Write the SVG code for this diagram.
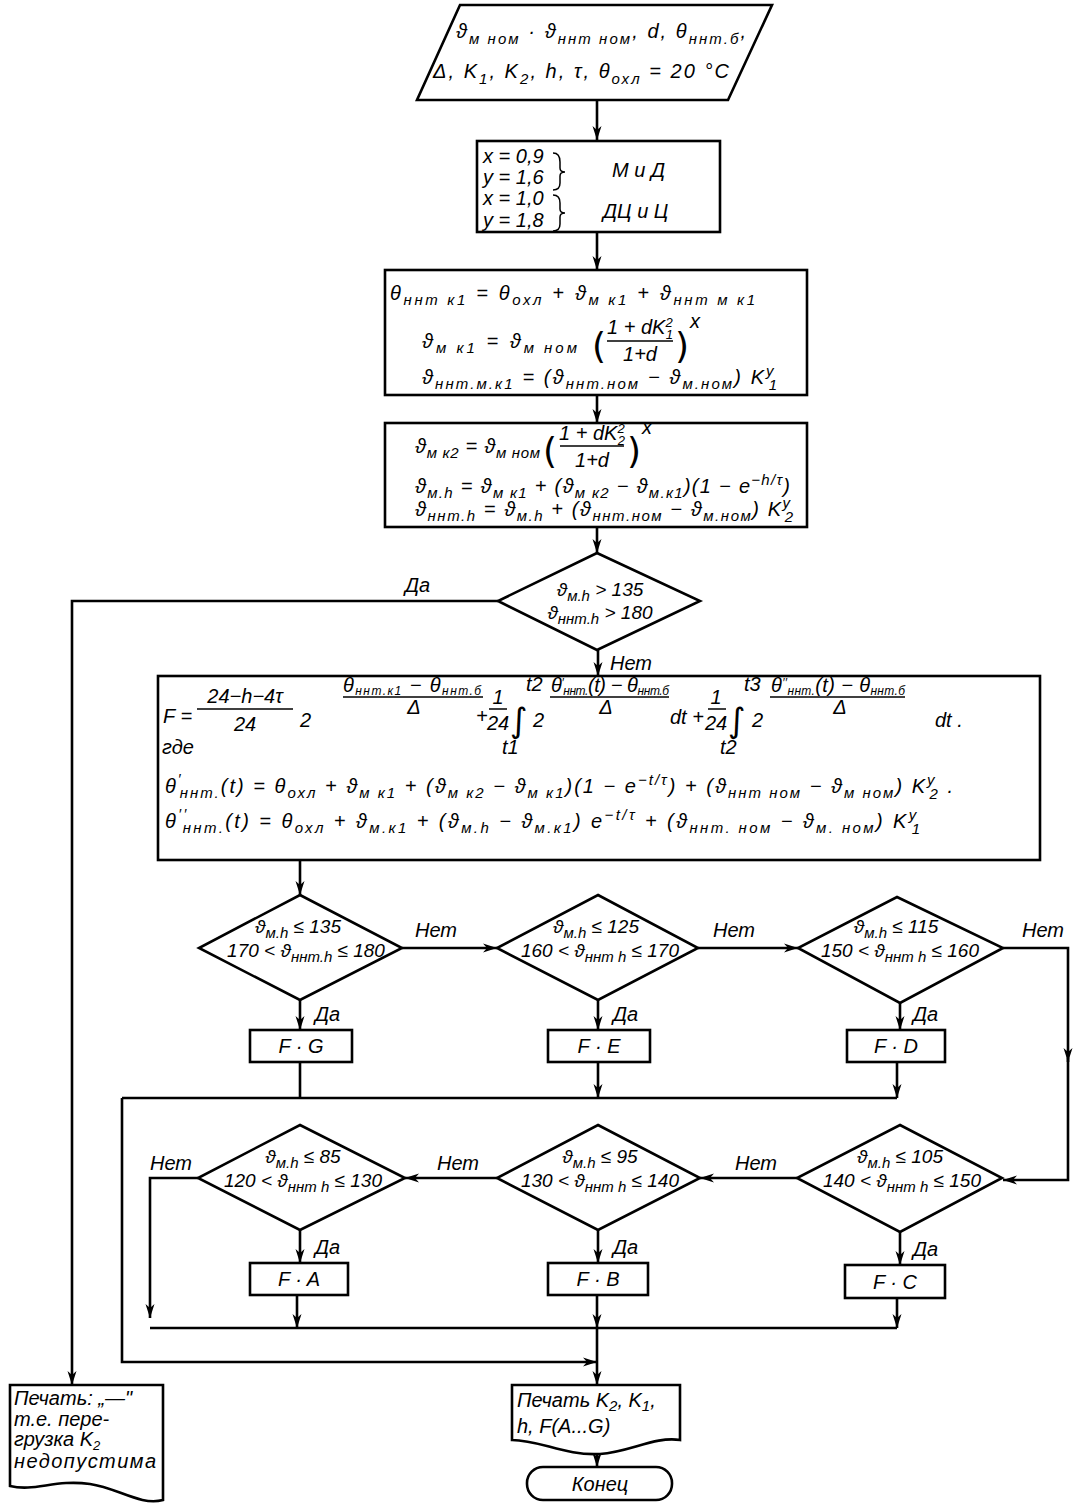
<svg xmlns="http://www.w3.org/2000/svg" width="1076" height="1508" viewBox="0 0 1076 1508">
<style>
.n{fill:#fff;stroke:#000;stroke-width:2.6}
.c{fill:none;stroke:#000;stroke-width:2.6}
.fl{fill:none;stroke:#000;stroke-width:1.5}
text{font-family:"Liberation Sans","DejaVu Sans",sans-serif;font-style:italic;font-size:20px;fill:#000}
.s{font-size:15px}
.m{text-anchor:middle}
.b{font-size:19px}
.big{font-style:normal;font-size:36px;font-family:"DejaVu Sans",sans-serif}
.int{font-style:normal;font-size:34px;font-family:"DejaVu Sans",sans-serif}
.lbl{font-size:20px}
</style>
<defs>
<marker id="a" viewBox="0 0 14 10" refX="14" refY="5" markerWidth="14" markerHeight="10" orient="auto" markerUnits="userSpaceOnUse">
<path d="M0,0.5 L14,5 L0,9.5 L4,5 z" fill="#000"/>
</marker>
</defs>
<rect width="1076" height="1508" fill="#fff"/>

<g id="connectors">
<path class="c" d="M597,100 V140" marker-end="url(#a)"/>
<path class="c" d="M597,232 V270" marker-end="url(#a)"/>
<path class="c" d="M597,395 V423" marker-end="url(#a)"/>
<path class="c" d="M597,527 V553" marker-end="url(#a)"/>
<path class="c" d="M498,601 H72 V1385" marker-end="url(#a)"/>
<path class="c" d="M598,650 V676" marker-end="url(#a)"/>
<path class="c" d="M300,860 V895" marker-end="url(#a)"/>
<path class="c" d="M402,948 H497" marker-end="url(#a)"/>
<path class="c" d="M698,948 H798" marker-end="url(#a)"/>
<path class="c" d="M1003,948 H1068 V1062" marker-end="url(#a)"/>
<path class="c" d="M1068,1058 V1180 H1003" marker-end="url(#a)"/>
<path class="c" d="M300,1000 V1030" marker-end="url(#a)"/>
<path class="c" d="M598,1000 V1030" marker-end="url(#a)"/>
<path class="c" d="M900,1003 V1030" marker-end="url(#a)"/>
<path class="c" d="M300,1062 V1098"/>
<path class="c" d="M598,1062 V1098" marker-end="url(#a)"/>
<path class="c" d="M897,1062 V1098" marker-end="url(#a)"/>
<path class="c" d="M122,1098 H897"/>
<path class="c" d="M122,1098 V1362 H597" marker-end="url(#a)"/>
<path class="c" d="M797,1178 H700" marker-end="url(#a)"/>
<path class="c" d="M497,1178 H405" marker-end="url(#a)"/>
<path class="c" d="M198,1178 H150 V1318" marker-end="url(#a)"/>
<path class="c" d="M300,1230 V1263" marker-end="url(#a)"/>
<path class="c" d="M598,1230 V1263" marker-end="url(#a)"/>
<path class="c" d="M900,1232 V1265" marker-end="url(#a)"/>
<path class="c" d="M297,1295 V1328" marker-end="url(#a)"/>
<path class="c" d="M597,1295 V1328" marker-end="url(#a)"/>
<path class="c" d="M897,1298 V1328" marker-end="url(#a)"/>
<path class="c" d="M150,1328 H897"/>
<path class="c" d="M597,1328 V1385" marker-end="url(#a)"/>
<path class="c" d="M597,1452 V1467" marker-end="url(#a)"/>
<text class="lbl" x="405" y="592">Да</text>
<text class="lbl" x="610" y="670">Нет</text>
<text class="lbl" x="415" y="937">Нет</text>
<text class="lbl" x="713" y="937">Нет</text>
<text class="lbl" x="1022" y="937">Нет</text>
<text class="lbl" x="315" y="1021">Да</text>
<text class="lbl" x="613" y="1021">Да</text>
<text class="lbl" x="913" y="1021">Да</text>
<text class="lbl" x="150" y="1170">Нет</text>
<text class="lbl" x="437" y="1170">Нет</text>
<text class="lbl" x="735" y="1170">Нет</text>
<text class="lbl" x="315" y="1254">Да</text>
<text class="lbl" x="613" y="1254">Да</text>
<text class="lbl" x="913" y="1256">Да</text>
</g>

<g id="input">
<path class="n" d="M460,5 H772 L728,100 H417 Z"/>
<text x="456" y="38" font-size="23" textLength="290">ϑ<tspan class="s" dy="6">м ном</tspan><tspan dy="-6"> · ϑ</tspan><tspan class="s" dy="6">ннт ном</tspan><tspan dy="-6">, d, θ</tspan><tspan class="s" dy="6">ннт.б</tspan><tspan dy="-6">,</tspan></text>
<text x="433" y="78" font-size="23" textLength="296">Δ, K<tspan class="s" dy="6">1</tspan><tspan dy="-6">, K</tspan><tspan class="s" dy="6">2</tspan><tspan dy="-6">, h, τ,  θ</tspan><tspan class="s" dy="6">охл</tspan><tspan dy="-6"> = 20 °С</tspan></text>
</g>

<g id="coef">
<rect class="n" x="477" y="141" width="243" height="91"/>
<text x="483" y="163">x = 0,9</text>
<text x="483" y="184">y = 1,6</text>
<text x="483" y="205">x = 1,0</text>
<text x="483" y="227">y = 1,8</text>
<path class="fl" d="M553,153 Q560,153 560,162 V168 Q560,172 565,172 Q560,172 560,176 V183 Q560,190 553,190"/>
<path class="fl" d="M553,195 Q560,195 560,203 V209 Q560,213 565,213 Q560,213 560,217 V224 Q560,231 553,231"/>
<text x="612" y="177">М и Д</text>
<text x="603" y="218">ДЦ и Ц</text>
</g>

<g id="calc1">
<rect class="n" x="385" y="270" width="422" height="125"/>
<text x="390" y="300" font-size="21" textLength="365">θ<tspan class="s" dy="5">ннт к1</tspan><tspan dy="-5"> = θ</tspan><tspan class="s" dy="5">охл</tspan><tspan dy="-5"> + ϑ</tspan><tspan class="s" dy="5">м к1</tspan><tspan dy="-5"> + ϑ</tspan><tspan class="s" dy="5">ннт м к1</tspan></text>
<text x="422" y="348" font-size="21" textLength="155">ϑ<tspan class="s" dy="5">м к1</tspan><tspan dy="-5"> = ϑ</tspan><tspan class="s" dy="5">м ном</tspan></text>
<text class="big" x="592" y="358">(</text>
<text class="m" x="640" y="334" font-size="17">1 + dK<tspan font-size="13" dy="-7">2</tspan><tspan font-size="13" dx="-7" dy="12">1</tspan></text>
<path class="fl" d="M607,341 H673"/>
<text class="m" x="640" y="361" font-size="17">1+d</text>
<text class="big" x="675" y="358">)</text>
<text x="690" y="328" font-size="15">x</text>
<text x="422" y="384" font-size="21" textLength="355">ϑ<tspan class="s" dy="5">ннт.м.к1</tspan><tspan dy="-5"> = (ϑ</tspan><tspan class="s" dy="5">ннт.ном</tspan><tspan dy="-5"> − ϑ</tspan><tspan class="s" dy="5">м.ном</tspan><tspan dy="-5">) K</tspan><tspan class="s" dy="-8">y</tspan><tspan class="s" dx="-7" dy="14">1</tspan></text>
</g>

<g id="calc2">
<rect class="n" x="385" y="423" width="422" height="104"/>
<text x="415" y="453" font-size="21" textLength="125">ϑ<tspan class="s" dy="5">м к2</tspan><tspan dy="-5"> = ϑ</tspan><tspan class="s" dy="5">м ном</tspan></text>
<text class="big" x="543" y="463">(</text>
<text class="m" x="592" y="440" font-size="17">1 + dK<tspan font-size="13" dy="-7">2</tspan><tspan font-size="13" dx="-7" dy="12">2</tspan></text>
<path class="fl" d="M560,446 H624"/>
<text class="m" x="592" y="467" font-size="17">1+d</text>
<text class="big" x="627" y="463">)</text>
<text x="642" y="434" font-size="15">x</text>
<text x="415" y="493" font-size="21" textLength="375">ϑ<tspan class="s" dy="5">м.h</tspan><tspan dy="-5"> = ϑ</tspan><tspan class="s" dy="5">м к1</tspan><tspan dy="-5"> + (ϑ</tspan><tspan class="s" dy="5">м к2</tspan><tspan dy="-5"> − ϑ</tspan><tspan class="s" dy="5">м.к1</tspan><tspan dy="-5">)(1 − e</tspan><tspan class="s" dy="-8">−h/τ</tspan><tspan dy="8">)</tspan></text>
<text x="415" y="516" font-size="21" textLength="378">ϑ<tspan class="s" dy="5">ннт.h</tspan><tspan dy="-5"> = ϑ</tspan><tspan class="s" dy="5">м.h</tspan><tspan dy="-5"> + (ϑ</tspan><tspan class="s" dy="5">ннт.ном</tspan><tspan dy="-5"> − ϑ</tspan><tspan class="s" dy="5">м.ном</tspan><tspan dy="-5">) K</tspan><tspan class="s" dy="-8">y</tspan><tspan class="s" dx="-7" dy="14">2</tspan></text>
</g>

<g id="check0">
<polygon class="n" points="597,553 700,601 597,650 498,601"/>
<text class="m b" x="600" y="596">ϑ<tspan class="s" dy="5">м.h</tspan><tspan dy="-5"> &gt; 135</tspan></text>
<text class="m b" x="600" y="619">ϑ<tspan class="s" dy="5">ннт.h</tspan><tspan dy="-5"> &gt; 180</tspan></text>
</g>

<g id="calcF">
<rect class="n" x="158" y="676" width="882" height="184"/>
<text x="163" y="723" font-size="21">F =</text>
<text class="m" x="245" y="703" font-size="21">24−h−4τ</text>
<path class="fl" d="M197,709 H293"/>
<text class="m" x="245" y="731" font-size="21">24</text>
<text x="300" y="727" font-size="23">2</text>
<text x="343" y="692" font-size="15" textLength="138">θ<tspan font-size="12" dy="3">ннт.к1</tspan><tspan dy="-3"> − θ</tspan><tspan font-size="12" dy="3">ннт.б</tspan></text>
<path class="fl" d="M343,697 H483"/>
<text class="m" x="414" y="714" font-size="16">Δ</text>
<text x="476" y="723">+</text>
<text class="m" x="498" y="704" font-size="17">1</text>
<path class="fl" d="M489,709 H507"/>
<text class="m" x="498" y="730" font-size="17">24</text>
<text class="int" x="510" y="732">∫</text>
<text x="526" y="691" font-size="14">t2</text>
<text x="502" y="754" font-size="14">t1</text>
<text x="533" y="727" font-size="23">2</text>
<text x="551" y="692" font-size="15" textLength="118">θ<tspan font-size="12" dy="-5">′</tspan><tspan font-size="12" dy="8">ннт.</tspan><tspan dy="-3">(t) − θ</tspan><tspan font-size="12" dy="3">ннт.б</tspan></text>
<path class="fl" d="M550,697 H669"/>
<text class="m" x="606" y="714" font-size="16">Δ</text>
<text x="670" y="724" font-size="19">dt +</text>
<text class="m" x="716" y="704" font-size="16">1</text>
<path class="fl" d="M708,709 H726"/>
<text class="m" x="716" y="730" font-size="17">24</text>
<text class="int" x="728" y="732">∫</text>
<text x="744" y="691" font-size="14">t3</text>
<text x="720" y="754" font-size="14">t2</text>
<text x="752" y="727" font-size="23">2</text>
<text x="771" y="692" font-size="15" textLength="134">θ<tspan font-size="12" dy="-5">′′</tspan><tspan font-size="12" dy="8">ннт.</tspan><tspan dy="-3">(t) − θ</tspan><tspan font-size="12" dy="3">ннт.б</tspan></text>
<path class="fl" d="M770,697 H905"/>
<text class="m" x="840" y="714" font-size="16">Δ</text>
<text x="935" y="727" font-size="21">dt .</text>
<text x="162" y="754" font-size="21">где</text>
<text x="165" y="793" font-size="21" textLength="788">θ<tspan class="s" dy="-9">′</tspan><tspan class="s" dx="-3" dy="14">ннт.</tspan><tspan dy="-5">(t) = θ</tspan><tspan class="s" dy="5">охл</tspan><tspan dy="-5"> + ϑ</tspan><tspan class="s" dy="5">м к1</tspan><tspan dy="-5"> + (ϑ</tspan><tspan class="s" dy="5">м к2</tspan><tspan dy="-5"> − ϑ</tspan><tspan class="s" dy="5">м к1</tspan><tspan dy="-5">)(1 − e</tspan><tspan class="s" dy="-8">−t/τ</tspan><tspan dy="8">) + (ϑ</tspan><tspan class="s" dy="5">ннт ном</tspan><tspan dy="-5"> − ϑ</tspan><tspan class="s" dy="5">м ном</tspan><tspan dy="-5">) K</tspan><tspan class="s" dy="-8">y</tspan><tspan class="s" dx="-7" dy="14">2</tspan><tspan dy="-6"> .</tspan></text>
<text x="165" y="828" font-size="21" textLength="755">θ<tspan class="s" dy="-9">′′</tspan><tspan class="s" dx="-6" dy="14">ннт.</tspan><tspan dy="-5">(t) = θ</tspan><tspan class="s" dy="5">охл</tspan><tspan dy="-5"> + ϑ</tspan><tspan class="s" dy="5">м.к1</tspan><tspan dy="-5"> + (ϑ</tspan><tspan class="s" dy="5">м.h</tspan><tspan dy="-5"> − ϑ</tspan><tspan class="s" dy="5">м.к1</tspan><tspan dy="-5">) e</tspan><tspan class="s" dy="-8">−t/τ</tspan><tspan dy="8"> + (ϑ</tspan><tspan class="s" dy="5">ннт. ном</tspan><tspan dy="-5"> − ϑ</tspan><tspan class="s" dy="5">м. ном</tspan><tspan dy="-5">) K</tspan><tspan class="s" dy="-8">y</tspan><tspan class="s" dx="-7" dy="14">1</tspan></text>
</g>

<g id="check1">
<polygon class="n" points="300,895 402,948 300,1000 199,948"/>
<text class="m b" x="298" y="933">ϑ<tspan class="s" dy="5">м.h</tspan><tspan dy="-5"> ≤ 135</tspan></text>
<text class="m b" x="306" y="957">170 &lt; ϑ<tspan class="s" dy="5">ннт.h</tspan><tspan dy="-5"> ≤ 180</tspan></text>
</g>
<g id="check2">
<polygon class="n" points="598,895 698,948 598,1000 497,948"/>
<text class="m b" x="596" y="933">ϑ<tspan class="s" dy="5">м.h</tspan><tspan dy="-5"> ≤ 125</tspan></text>
<text class="m b" x="600" y="957">160 &lt; ϑ<tspan class="s" dy="5">ннт h</tspan><tspan dy="-5"> ≤ 170</tspan></text>
</g>
<g id="check3">
<polygon class="n" points="897,897 1003,948 900,1003 798,948"/>
<text class="m b" x="896" y="933">ϑ<tspan class="s" dy="5">м.h</tspan><tspan dy="-5"> ≤ 115</tspan></text>
<text class="m b" x="900" y="957">150 &lt; ϑ<tspan class="s" dy="5">ннт h</tspan><tspan dy="-5"> ≤ 160</tspan></text>
</g>

<g id="resG"><rect class="n" x="250" y="1030" width="102" height="32"/><text class="m" x="301" y="1053">F · G</text></g>
<g id="resE"><rect class="n" x="548" y="1030" width="102" height="32"/><text class="m" x="599" y="1053">F · E</text></g>
<g id="resD"><rect class="n" x="847" y="1030" width="98" height="32"/><text class="m" x="896" y="1053">F · D</text></g>

<g id="check4">
<polygon class="n" points="300,1125 405,1178 300,1230 198,1178"/>
<text class="m b" x="303" y="1163">ϑ<tspan class="s" dy="5">м.h</tspan><tspan dy="-5"> ≤ 85</tspan></text>
<text class="m b" x="303" y="1187">120 &lt; ϑ<tspan class="s" dy="5">ннт h</tspan><tspan dy="-5"> ≤ 130</tspan></text>
</g>
<g id="check5">
<polygon class="n" points="598,1125 700,1178 598,1230 497,1178"/>
<text class="m b" x="600" y="1163">ϑ<tspan class="s" dy="5">м.h</tspan><tspan dy="-5"> ≤ 95</tspan></text>
<text class="m b" x="600" y="1187">130 &lt; ϑ<tspan class="s" dy="5">ннт h</tspan><tspan dy="-5"> ≤ 140</tspan></text>
</g>
<g id="check6">
<polygon class="n" points="900,1125 1002,1178 900,1232 797,1178"/>
<text class="m b" x="900" y="1163">ϑ<tspan class="s" dy="5">м.h</tspan><tspan dy="-5"> ≤ 105</tspan></text>
<text class="m b" x="902" y="1187">140 &lt; ϑ<tspan class="s" dy="5">ннт h</tspan><tspan dy="-5"> ≤ 150</tspan></text>
</g>

<g id="resA"><rect class="n" x="250" y="1263" width="98" height="32"/><text class="m" x="299" y="1286">F · A</text></g>
<g id="resB"><rect class="n" x="548" y="1263" width="100" height="32"/><text class="m" x="598" y="1286">F · B</text></g>
<g id="resC"><rect class="n" x="845" y="1265" width="100" height="33"/><text class="m" x="895" y="1289">F · C</text></g>

<g id="printErr">
<path class="n" d="M10,1385 H163 V1500 C140,1506 118,1488 90,1484 C55,1479 35,1492 10,1486 Z"/>
<text x="14" y="1405" font-size="18">Печать: „—"</text>
<text x="14" y="1426" font-size="18">т.е. пере-</text>
<text x="14" y="1446" font-size="18">грузка K<tspan font-size="13" dy="4">2</tspan></text>
<text x="14" y="1468" font-size="18" textLength="142">недопустима</text>
</g>

<g id="printRes">
<path class="n" d="M512,1385 H680 V1440 C655,1436 630,1452 600,1454 C565,1456 540,1440 512,1440 Z"/>
<text x="517" y="1407" font-size="19">Печать K<tspan class="s" dy="4">2</tspan><tspan dy="-4">, K</tspan><tspan class="s" dy="4">1</tspan><tspan dy="-4">,</tspan></text>
<text x="517" y="1433" font-size="19">h, F(A...G)</text>
</g>

<g id="end">
<rect class="n" x="527" y="1467" width="145" height="33" rx="16"/>
<text class="m" x="600" y="1491">Конец</text>
</g>
</svg>
